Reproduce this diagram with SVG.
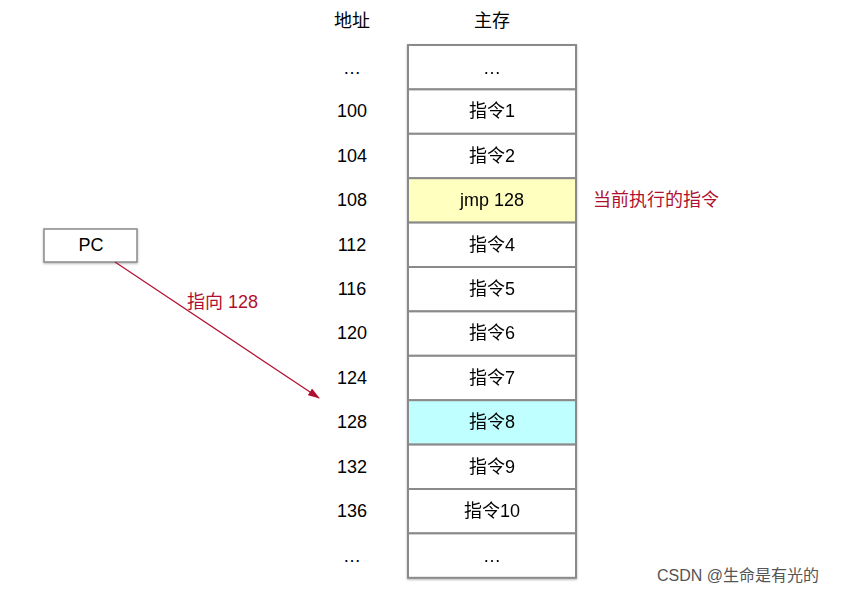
<svg xmlns="http://www.w3.org/2000/svg" width="848" height="594" viewBox="0 0 848 594">
<style>
text{font-family:"Liberation Sans","Noto Sans CJK SC",sans-serif;font-size:18px;text-anchor:middle;dominant-baseline:central;fill:#000}
.c rect{stroke:#8a8a8a;stroke-width:2}
.r{fill:#b01030;text-anchor:start}
</style>
<defs>
<marker id="a" markerWidth="12" markerHeight="8" refX="11" refY="4" orient="auto" markerUnits="userSpaceOnUse"><path d="M0,0L12,4L0,8z" fill="#b01030"/></marker>
<filter id="s"><feDropShadow dx="0" dy="1" stdDeviation="1" flood-opacity="0.3"/></filter>
</defs>
<rect width="848" height="594" fill="#fff"/>
<text x="352" y="21">地址</text>
<text x="492" y="21">主存</text>
<g class="c" filter="url(#s)">
<g id="m0"><rect x="408" y="45" width="168" height="44.4" fill="#fff"/><text x="492" y="68">…</text></g>
<g id="m1"><rect x="408" y="89.4" width="168" height="44.4" fill="#fff"/><text x="492" y="111">指令1</text></g>
<g id="m2"><rect x="408" y="133.8" width="168" height="44.4" fill="#fff"/><text x="492" y="156">指令2</text></g>
<g id="m3"><rect x="408" y="178.2" width="168" height="44.4" fill="#ffffc0"/><text x="492" y="200">jmp 128</text></g>
<g id="m4"><rect x="408" y="222.6" width="168" height="44.4" fill="#fff"/><text x="492" y="245">指令4</text></g>
<g id="m5"><rect x="408" y="267" width="168" height="44.4" fill="#fff"/><text x="492" y="289">指令5</text></g>
<g id="m6"><rect x="408" y="311.4" width="168" height="44.4" fill="#fff"/><text x="492" y="333">指令6</text></g>
<g id="m7"><rect x="408" y="355.8" width="168" height="44.4" fill="#fff"/><text x="492" y="378">指令7</text></g>
<g id="m8"><rect x="408" y="400.2" width="168" height="44.4" fill="#c0ffff"/><text x="492" y="422">指令8</text></g>
<g id="m9"><rect x="408" y="444.6" width="168" height="44.4" fill="#fff"/><text x="492" y="467">指令9</text></g>
<g id="m10"><rect x="408" y="489" width="168" height="44.4" fill="#fff"/><text x="492" y="511">指令10</text></g>
<g id="m11"><rect x="408" y="533.4" width="168" height="44.4" fill="#fff"/><text x="492" y="556">…</text></g>
</g>
<g id="addr">
<text x="352" y="68">…</text><text x="352" y="111">100</text><text x="352" y="156">104</text><text x="352" y="200">108</text><text x="352" y="245">112</text><text x="352" y="289">116</text><text x="352" y="333">120</text><text x="352" y="378">124</text><text x="352" y="422">128</text><text x="352" y="467">132</text><text x="352" y="511">136</text><text x="352" y="556">…</text>
</g>
<text class="r" x="593" y="200">当前执行的指令</text>
<g id="pc"><rect x="44" y="229" width="93" height="33" fill="#fff" stroke="#8a8a8a" stroke-width="1.5" filter="url(#s)"/><text x="91" y="245">PC</text></g>
<g id="connectors"><line x1="115" y1="262" x2="319" y2="398" stroke="#b01030" stroke-width="1.2" marker-end="url(#a)"/></g>
<text class="r" x="187" y="302">指向 128</text>
<text x="738" y="575" style="font-size:16px;fill:#555">CSDN @生命是有光的</text>
</svg>
